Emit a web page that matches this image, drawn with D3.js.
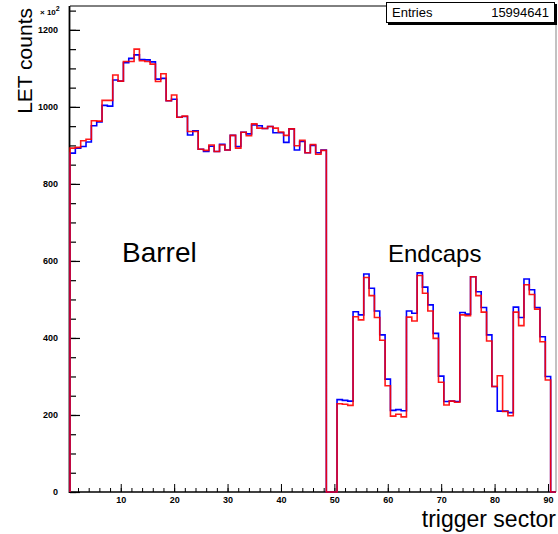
<!DOCTYPE html>
<html><head><meta charset="utf-8">
<script src="https://cdn.jsdelivr.net/npm/d3@7/dist/d3.min.js"></script>
<style>body{margin:0;background:#fff}svg{display:block}</style>
</head><body>
<script>
// trigger sectors 1..91 (bins 49, 50 and 91 are empty)
const sectors = [
  1,2,3,4,5,6,7,8,9,10,11,12,13,14,15,16,17,18,19,20,21,22,23,24,25,26,27,28,29,30,
  31,32,33,34,35,36,37,38,39,40,41,42,43,44,45,46,47,48,49,50,51,52,53,54,55,56,57,58,59,60,
  61,62,63,64,65,66,67,68,69,70,71,72,73,74,75,76,77,78,79,80,81,82,83,84,85,86,87,88,89,90,91];
// LET counts (x 10^2), blue histogram
const blueCounts = [
  880,893,897,909,951,961,1004,1002,1070,1067,1115,1126,1135,1123,1122,1117,1072,1074,1016,1020,
  973,975,927,938,890,884,898,884,903,888,926,897,934,930,953,951,944,949,933,933,
  908,943,888,910,881,900,881,888,0,0,
  240,238,236,468,460,566,529,470,408,293,212,214,211,470,464,569,532,486,412,301,
  235,236,235,466,462,559,520,479,408,274,210,210,206,480,453,553,525,479,403,300,0];
// LET counts (x 10^2), red histogram
const redCounts = [
  893,895,912,916,964,963,1017,1017,1083,1067,1118,1118,1150,1120,1118,1111,1066,1086,1016,1031,
  973,976,936,936,890,887,901,884,901,888,926,893,934,925,956,945,944,949,945,935,
  926,943,899,913,881,902,877,887,0,0,
  229,228,225,455,447,557,510,453,394,276,197,202,195,454,444,562,516,470,399,285,
  226,236,233,460,458,559,510,467,392,274,302,209,198,467,432,538,513,475,390,291,0];
const xTickLabels = [10,20,30,40,50,60,70,80,90];
const yTickLabels = [0,200,400,600,800,1000,1200];
const entriesText = "15994641";

const W = 558, H = 534;
const svg = d3.select("body").append("svg").attr("width", W).attr("height", H)
  .style("font-family", "'Liberation Sans', Arial, Helvetica, sans-serif");

const x = d3.scaleLinear().domain([0.5, 91.5]).range([70, 556]);
const y = d3.scaleLinear().domain([0, 1262]).range([492, 6]);

// frame
svg.append("line").attr("x1", 70).attr("x2", 556).attr("y1", 6).attr("y2", 6)
  .attr("stroke", "#000").attr("stroke-width", 1);
svg.append("line").attr("x1", 556).attr("x2", 556).attr("y1", 6).attr("y2", 492)
  .attr("stroke", "#999").attr("stroke-width", 1.2);

// y axis
const yMinor = svg.append("g").attr("transform", "translate(70,0)")
  .call(d3.axisLeft(y).tickValues(d3.range(0, 1251, 50)).tickSizeInner(-6).tickSizeOuter(0).tickFormat(""));
const yAx = svg.append("g").attr("transform", "translate(70,0)")
  .call(d3.axisLeft(y).tickValues(yTickLabels).tickSizeInner(-10).tickSizeOuter(0).tickPadding(12).tickFormat(d3.format("d")));
[yMinor, yAx].forEach(g => { g.select(".domain").remove(); g.selectAll("line").attr("stroke", "#000").attr("stroke-width", 1.2); });
yAx.selectAll("text").attr("font-size", 9).attr("font-weight", "bold").attr("fill", "#000")
  .style("font-family", "'Liberation Sans', Arial, sans-serif");
svg.append("line").attr("x1", 69.5).attr("x2", 69.5).attr("y1", 6).attr("y2", 493)
  .attr("stroke", "#000").attr("stroke-width", 1.8);

// x axis
const xMinor = svg.append("g").attr("transform", "translate(0,492)")
  .call(d3.axisBottom(x).tickValues(d3.range(2, 91, 2)).tickSizeInner(-4).tickSizeOuter(0).tickFormat(""));
const xAx = svg.append("g").attr("transform", "translate(0,492)")
  .call(d3.axisBottom(x).tickValues(xTickLabels).tickSizeInner(-8).tickSizeOuter(0).tickPadding(5).tickFormat(d3.format("d")));
[xMinor, xAx].forEach(g => { g.select(".domain").remove(); g.selectAll("line").attr("stroke", "#000").attr("stroke-width", 1); });
xAx.selectAll("text").attr("font-size", 9).attr("font-weight", "bold").attr("fill", "#000")
  .style("font-family", "'Liberation Sans', Arial, sans-serif");
svg.append("line").attr("x1", 69).attr("x2", 556).attr("y1", 492).attr("y2", 492)
  .attr("stroke", "#000").attr("stroke-width", 1.5);

// histograms (drawn over the axes)
function stepPath(vals) {
  const pts = [[x(sectors[0] - 0.5), y(0)]];
  vals.forEach((v, i) => {
    pts.push([x(sectors[i] - 0.5), y(v)]);
    pts.push([x(sectors[i] + 0.5), y(v)]);
  });
  pts.push([x(sectors[sectors.length - 1] + 0.5), y(0)]);
  return d3.line()(pts);
}
svg.append("path").attr("d", stepPath(blueCounts)).attr("fill", "none")
  .attr("stroke", "#0000ff").attr("stroke-width", 1.6);
svg.append("path").attr("d", stepPath(redCounts)).attr("fill", "none")
  .attr("stroke", "#ff0000").attr("stroke-width", 1.6).attr("stroke-opacity", 0.9);

// x10^2
const mult = svg.append("text").attr("x", 40).attr("y", 15).attr("font-size", 8).attr("font-weight", "bold");
mult.append("tspan").text("\u00d7 10");
mult.append("tspan").attr("dy", -4).attr("font-size", 7).text("2");

// axis titles
svg.append("text").attr("transform", "translate(32,8) rotate(-90)").attr("text-anchor", "end")
  .attr("font-size", 21).text("LET counts");
svg.append("text").attr("x", 556).attr("y", 527).attr("text-anchor", "end")
  .attr("font-size", 23).text("trigger sector");

// annotations
svg.append("text").attr("x", 122).attr("y", 262).attr("font-size", 28).text("Barrel");
svg.append("text").attr("x", 388).attr("y", 262).attr("font-size", 24).text("Endcaps");

// stats box
svg.append("rect").attr("x", 388).attr("y", 4).attr("width", 169).attr("height", 21).attr("fill", "#000");
svg.append("rect").attr("x", 386.5).attr("y", 2.5).attr("width", 168).attr("height", 20)
  .attr("fill", "#fff").attr("stroke", "#000").attr("stroke-width", 1);
svg.append("text").attr("x", 392).attr("y", 17).attr("font-size", 13).text("Entries");
svg.append("text").attr("x", 549).attr("y", 17).attr("font-size", 13).attr("text-anchor", "end").text(entriesText);
</script>
</body></html>
